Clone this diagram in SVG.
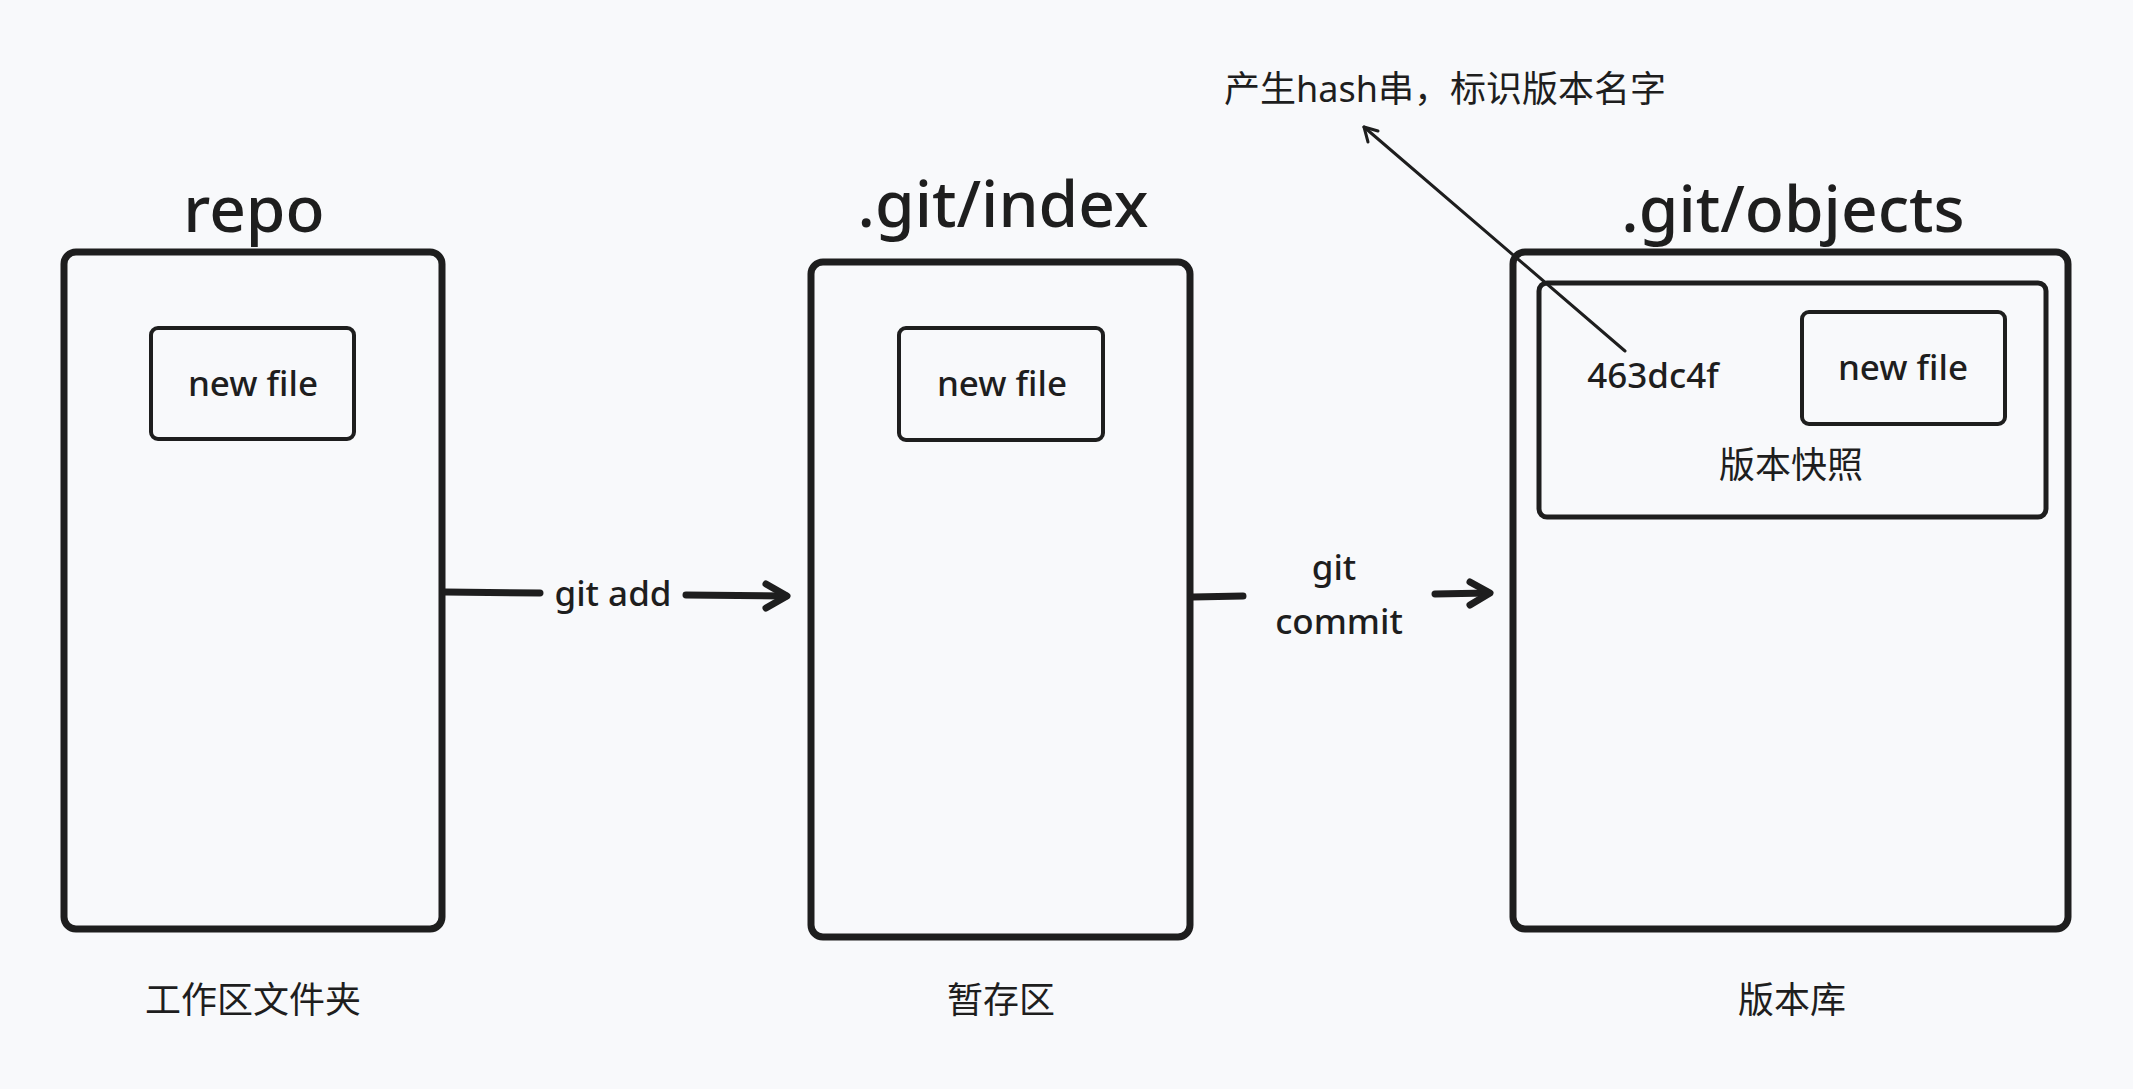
<svg xmlns="http://www.w3.org/2000/svg" width="2133" height="1089" viewBox="0 0 2133 1089">
<defs>
<style>
.bg{fill:#f8f9fb}
.big{fill:none;stroke:#1e1e1e;stroke-width:7;stroke-linejoin:round}
.mid{fill:none;stroke:#1e1e1e;stroke-width:5}
.small{fill:none;stroke:#1e1e1e;stroke-width:4}
.t{font-family:"Noto Sans","Noto Sans CJK SC",sans-serif;fill:#1e1e1e;text-anchor:middle}
.title{font-size:64px;font-weight:500}
.lbl{font-size:35px;font-weight:500}
.cjk{font-family:"Noto Sans","Noto Sans CJK SC",sans-serif;font-size:36px;fill:#1e1e1e;text-anchor:middle}
.conn{fill:none;stroke:#1e1e1e;stroke-width:7;stroke-linecap:round;stroke-linejoin:round}
.thin{fill:none;stroke:#1e1e1e;stroke-width:3;stroke-linecap:round;stroke-linejoin:round}
</style>
</defs>
<rect class="bg" x="0" y="0" width="2133" height="1089"/>

<g id="repo">
<text class="t title" x="254" y="232">repo</text>
<rect class="big" x="64" y="252" width="378" height="677" rx="12"/>
<g id="repo-file">
<rect class="small" x="151" y="328" width="203" height="111" rx="7"/>
<text class="t lbl" x="253" y="396">new file</text>
</g>
<text class="cjk" x="253" y="1013">工作区文件夹</text>
</g>

<g id="index">
<text class="t title" x="1003" y="227">.git/index</text>
<rect class="big" x="811" y="262" width="379" height="675" rx="12"/>
<g id="index-file">
<rect class="small" x="899" y="328" width="204" height="112" rx="7"/>
<text class="t lbl" x="1002" y="396">new file</text>
</g>
<text class="cjk" x="1001" y="1013">暂存区</text>
</g>

<g id="objects">
<text class="t title" x="1793" y="232">.git/objects</text>
<rect class="big" x="1513" y="252" width="555" height="677" rx="12"/>
<g id="snapshot">
<rect class="mid" x="1539" y="283" width="507" height="234" rx="8"/>
<text class="t lbl" x="1653" y="388">463dc4f</text>
<g id="objects-file">
<rect class="small" x="1802" y="312" width="203" height="112" rx="7"/>
<text class="t lbl" x="1903" y="380">new file</text>
</g>
<text class="cjk" x="1791" y="478">版本快照</text>
</g>
<text class="cjk" x="1792" y="1013">版本库</text>
</g>

<g id="hash-note">
<text class="cjk" x="1445" y="102">产生hash串，标识版本名字</text>
</g>

<g id="connectors">
<path class="conn" d="M445 592 L540 593"/>
<text class="t lbl" x="613" y="606">git add</text>
<path class="conn" d="M686 595 L786 596"/>
<path class="conn" d="M766 584 L787 596 L766 608"/>
<path class="conn" d="M1193 597 L1243 596"/>
<text class="t lbl" x="1334" y="580">git</text>
<text class="t lbl" x="1339" y="634">commit</text>
<path class="conn" d="M1435 594 L1488 593"/>
<path class="conn" d="M1470 582 L1490 593 L1470 605"/>
<path class="thin" d="M1625 351 L1364 127"/>
<path class="thin" d="M1378 131 L1364 127 L1368 142"/>
</g>
</svg>
